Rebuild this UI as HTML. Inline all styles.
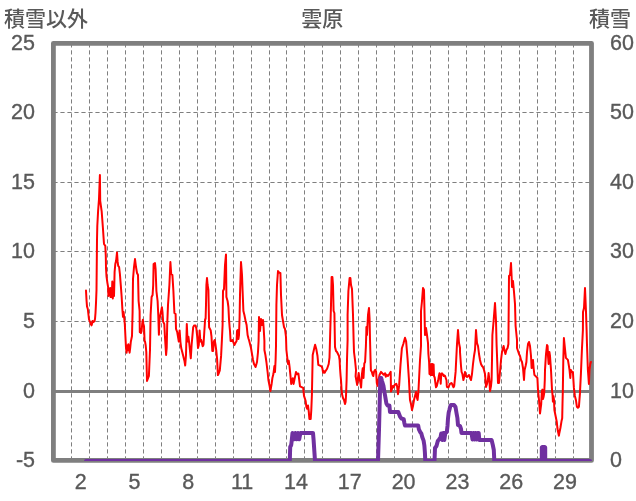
<!DOCTYPE html>
<html><head><meta charset="utf-8"><title>雲原</title>
<style>html,body{margin:0;padding:0;background:#fff;width:636px;height:501px;overflow:hidden}svg{display:block}</style>
</head><body>
<svg width="636" height="501" viewBox="0 0 636 501">
<rect width="636" height="501" fill="#fff"/>
<path d="M71.5 43.3V460.4M89.5 43.3V460.4M107.5 43.3V460.4M125.5 43.3V460.4M143.5 43.3V460.4M161.5 43.3V460.4M179.5 43.3V460.4M197.5 43.3V460.4M215.5 43.3V460.4M233.5 43.3V460.4M251.5 43.3V460.4M269.5 43.3V460.4M286.5 43.3V460.4M304.5 43.3V460.4M322.5 43.3V460.4M340.5 43.3V460.4M358.5 43.3V460.4M376.5 43.3V460.4M394.5 43.3V460.4M412.5 43.3V460.4M430.5 43.3V460.4M448.5 43.3V460.4M466.5 43.3V460.4M484.5 43.3V460.4M501.5 43.3V460.4M519.5 43.3V460.4M537.5 43.3V460.4M555.5 43.3V460.4M573.5 43.3V460.4M53.4 112.5H591.5M53.4 182.5H591.5M53.4 251.5H591.5M53.4 321.5H591.5" stroke="#7f7f7f" stroke-width="1" stroke-dasharray="4.2 2.8" fill="none"/>
<path d="M53.4 391.5H591.5" stroke="#7f7f7f" stroke-width="2.9" fill="none"/>
<rect x="53.4" y="43.3" width="538.10" height="417.10" stroke="#7f7f7f" stroke-width="4.8" fill="none" stroke-linejoin="round"/>
<polyline points="86,290.5 86.5,300 87,306.4 87.8,309 88.5,315 89,319.4 90,322 90.8,324 91.5,325.4 92,324 92.5,321 93.5,322 94.5,321 95,319 95.5,313 96,303 96.5,290 96.8,260 97,240 97.3,226 98.1,211 99,199 99.9,175 100.2,200.9 101.7,211.7 102.9,227.8 104,244 105.3,245.8 105.8,256 106,268 106.5,276.4 107.4,282.8 108.1,287 108.4,296 109,289 109.7,294.5 110.2,288 110.5,297 111.2,289 111.8,297 112.3,281.5 112.8,298.4 113.4,290 114,296 114.3,285 114.6,272 115.3,264 116.1,260.8 117,252.6 117.6,261.4 118.2,265.8 119.1,267 119.9,274 120.8,285.3 121.6,296 121.9,301 122.4,309.6 123,316.8 123.6,312 124.2,318 124.8,324 125.4,336 126,347.9 126.6,352.7 127.2,345.5 127.8,350.3 128.4,344.3 129,347.9 129.6,352.7 130.2,347.9 130.8,341.9 132,336 132.6,312 133,279 134,267 135,259 136,267 137,273 138,275 138.6,301 139.6,311 139.8,332.3 140.4,328.7 141,333 141.6,331 142.2,324 142.8,319.8 143.4,324 144,326.3 144.6,340.7 145.1,341.9 145.7,345.5 146.3,352 147,381 148.9,376 150,350 150.6,315 151.6,297 152.6,295 153.2,285 153.6,264 155,263 155.6,269 156.4,291 157.6,301 158.3,315.6 158.9,334.7 159.5,319.2 160.7,313.2 161.9,307.2 162.5,312 163.1,321.6 164.3,324 164.9,336 166.1,355 166.7,347.9 167.2,325 168,305 169.4,285 170.4,262 171.2,274 172.4,275 173.4,291 174.4,313 175.6,314 176,328.8 177.2,332 178.8,341.5 179.6,330.4 180.4,341.5 181.2,348 182.8,354.3 184.4,360.7 185.2,365.5 186,355 186.8,324 187.6,341.5 188.4,336.7 189.2,343 190.8,358.3 191.6,345 193.2,327.2 194,325.6 195.6,325.6 196.4,328.8 197.2,336.7 198,348 198.8,345 199.6,330.4 200.4,341.5 201.2,340 202.7,346.3 203.5,344.7 204.3,332 205.1,319.2 205.6,319 206,305 206.4,285 207,278 207.6,285 208.4,290 209.1,327.2 210.7,330.4 211.5,336.7 212.3,351 213.1,351 213.9,341.5 214.7,340 215.5,344.7 216.3,351 217.1,359.1 217.9,375.1 218.7,373.5 219.8,370.3 221.1,355.9 221.9,340 222.6,325 223,291 224,289 225,265 226,254.4 226.4,297 227.6,301 228.4,307 229,319 229.6,327 230,331 230.6,341 231.6,341 232.6,340 233.6,343 234.4,345 235.4,343 236.6,341 237,331 237.6,330 238.4,339 239,335 239.6,317 240,295 240.6,275 241,262 242,275 242.6,291 243.4,311 244.4,315 245.6,321 246.6,325 247.6,335 248.6,339 249,340 251,348 252,354 253,360 254,364 255.6,367 257,362 258,352 258.6,341 259,317 260,331 261,319 262,325 263,320 263.6,327 264.4,341 264.4,350 265.4,355 266.4,362 267.6,372 268.4,380 269.6,386 270.4,391 271.6,384 272.4,378 273.4,374 274.4,366 275,372 275.6,360 276,346 276.4,305 277,285 278,271 279.6,273 280.4,273 281,295 282,315 283,321 284,327 285,329 286,337 286.4,350 287.2,357 288,364 288.8,360.8 289.6,367.2 290.4,375.1 291.2,383.9 292.8,378.3 293.6,383.9 294.4,379.9 296,372 297.3,374.3 298.4,373.5 299.2,379.9 300,386.3 301.6,387.1 303.2,387.9 304,395.9 305.6,400.7 306.4,407.1 307.2,408.7 308,405.5 308.8,411.9 309.4,419 310.7,419 311.3,410 311.9,395 312.3,375 312.7,355 314.3,348 315.1,344.8 316.4,349.6 317.5,356 318.3,364.8 320,365.6 321.5,366.4 322.3,368 323.1,372.7 323.9,371.1 324.7,372.7 325.5,371.1 327.1,368.8 328.7,364 329.5,357.6 330,340 331,305 331.6,277 332.4,277 333,285 333.6,311 334.4,313 335,347 336,351 337,352 338,354 339,356 339.6,360 340,368 340.6,376 341,380 341.6,390 342,394 343,398 344,400 345,404 345.6,402 346,396 346.6,380 347,360 347.6,340 347.6,315 348.4,291 349.6,278 350.4,278 351,285 352,289 353,315 353.6,339 354,352 355,360 356,370 355.6,376.3 357.2,385 358,378 358.7,373 359.5,379.5 360.3,382 361.1,387.5 361.9,374.7 362.7,368.3 363.5,378 364.3,363.5 365.1,362 365.9,346 366.3,333 366.4,327 366.4,327 367,335 368,315 369,308 369.6,319 370,339 370.5,357.9 370.9,370.5 371.9,371.9 372.6,374.7 373.3,376 374,371.9 374.7,370.5 375.4,369.8 376.1,371.9 376.8,383 377.5,385.9 378.5,380 379.5,375 381,371.9 382.3,373.3 383.7,374.7 385.1,373.3 385.8,376.8 386.5,374.7 387.9,376 389.3,374 390.7,371.9 391,391.5 392.1,388.7 392.8,385.9 393.5,387.3 394.9,384.5 396.3,383.8 397,385.9 398,394.2 399.1,385.9 400.5,364.9 401.9,348.2 403.3,344 405,337.7 406.1,341.2 407.5,357.9 408.9,378.9 409.6,392.8 410,400 411,404 412,410 413,406 414,400 415,396 416,392 417,398 417.6,400 418.4,392 419,380 420,360 421,346 421,311 422,301 423,288 424,290 424.4,307 425,335 426,328 427,335 428,343 428.4,354 429.1,362 429.5,374 430,364 430.6,375 431.2,364 431.8,375 432.4,364 433,375 433.6,364.5 434,376 434.7,377.5 435.4,383 436,387.3 436.8,386 437.5,383 438.2,380.3 438.9,376 439.5,373.3 440.2,374.7 440.7,383.8 441.2,374.7 442,373.3 443,374.7 443.7,376 444.4,375.4 445.1,376 445.8,378.2 446.5,380.3 446.8,385.9 447.2,387.3 448.6,387.3 449.3,385.2 450,383.8 451.4,383 452.1,383.8 452.8,385.9 453.5,387.3 454.2,386 454.9,378.9 455.6,371.9 456.3,357.9 457,344 458,330 459,343 460,348 460,352 461,366 461.6,372 462.4,374 463.4,380 464.4,376 465,372 466,376 467,377 468,376 469,375 470,378 471,380 472,374 473,364 474,356 475,350 476,330 477,343 478,346 479,354 480,360 481,364 482,366 483,367 484,370 485,374 486,387 487,384 488,379 488.6,373 489.4,380 490,391 491,386 491.6,380 492,360 492.4,335 493.6,321 495,303 496,321 496.6,345 497.4,366 498,383 499,383 500,372 501,360 502,352 503,348 503.6,346 504.4,350 505.4,354 506.4,350 507.6,348 508.4,344 509,276 510,275 511,263 511.6,276 512,287 513,281 514,292 515,304 515.6,326 517,340 517,348 519,354 520,356 521,360 522,362 523,368 524,380 524.6,370 525.6,366 526.4,362 527,352 528,344 529,342 530,346 531,356 531.6,368 532.4,362 533,360 533.6,368 534.4,375 535.6,376 536.4,377 537.4,378 538,390 539,400 540,413.5 541.2,404 541.8,392 542.4,389.6 543,399 543.6,396.8 544.2,393.2 544.8,380 545,369.9 546,354 547,345 547.6,346 548,356 548.6,364 549.4,352 550,356 551,370 551.6,381.9 552,389.6 552.6,395.6 552.9,401.6 553.4,396 554,400 554.4,410 555.6,416 556.8,422 557.4,428 558,431.5 558.9,435.7 559.4,432.7 560.4,428 561.6,420.7 562.2,418.3 562.5,404 562.8,392 563.3,359.9 563.9,338 564.9,348 565.9,357.9 566.9,358.9 567.9,359.9 568.9,365.9 569.5,369.9 570.3,377.9 570.9,369.9 571.9,371.9 572.9,371.9 573.9,387.9 574.9,395.9 575.9,399.9 576.9,406.8 577.9,407.8 578.9,406.8 579.9,393.9 580.9,373.9 581.9,350 582.9,330 583,312 584,308 585,288 586,312 586.6,330 587,345 587.9,370 588.9,383.9 589.5,369.9 590.3,363.9 590.9,361.9" stroke="#ff0000" stroke-width="2" fill="none" stroke-linejoin="round" stroke-linecap="round"/>
<defs><clipPath id="pc"><rect x="0" y="0" width="636" height="461.1"/></clipPath></defs>
<polyline clip-path="url(#pc)" points="86,460.9 289.8,460.9 290.2,447 291.2,445 291.8,440 292.5,433 294,439.3 295.3,433 296.6,439.3 297.9,433 299.2,439.3 300.4,433 313,433 313.6,440 314.4,452 315,460.9 378,460.9 379,430 380,390 380.4,378 381.2,378 382,381 383.4,385.6 384.4,392 385.2,396.3 386.4,403.5 387.6,405.5 389.4,405.5 390,412 398.3,412 400.1,416.7 401.3,418.5 403.7,419.1 404.3,422.7 405,425.5 418.2,425.5 418.9,429.4 420.2,432 421.4,433.7 422.3,437.2 423.6,440.6 424.4,445.8 424.9,452.6 425.3,460.9 434.5,460.9 435,448 436.5,446 437.8,441 439,439.5 440.5,437.5 441.2,433.5 442.3,440 443.3,433 444.3,440 445.3,433 446.8,432 447.5,426 448,418.4 448.7,412.5 449.5,409.5 450.2,406.5 451,405 454,405 455.5,407 456.5,413 457.4,418 458,425 460,426 461,429 461.5,433 471.5,433 472.5,439.5 473.5,433 474.5,439.5 475.5,433 476.5,439.5 477.5,433 478.7,433 479.3,440 491.6,440 492.8,445 493.8,450 494.3,460.9 541.8,460.9 541.8,447.5 542.5,447 544.5,447 545.2,447.5 545.2,460.9 590,460.9" stroke="#7030a0" stroke-width="4" fill="none" stroke-linejoin="round" stroke-linecap="round"/>
<g font-family="&apos;Liberation Sans&apos;, sans-serif" font-size="21.5" fill="#595959" stroke="#595959" stroke-width="0.35">
<text transform="translate(35 49.9) scale(1 1.04)" text-anchor="end">25</text>
<text transform="translate(35 119.1) scale(1 1.04)" text-anchor="end">20</text>
<text transform="translate(35 189.1) scale(1 1.04)" text-anchor="end">15</text>
<text transform="translate(35 258.2) scale(1 1.04)" text-anchor="end">10</text>
<text transform="translate(35 328.1) scale(1 1.04)" text-anchor="end">5</text>
<text transform="translate(35 398.1) scale(1 1.04)" text-anchor="end">0</text>
<text transform="translate(35 467.0) scale(1 1.04)" text-anchor="end">-5</text>
<text transform="translate(610 49.9) scale(1 1.04)">60</text>
<text transform="translate(610 119.1) scale(1 1.04)">50</text>
<text transform="translate(610 189.1) scale(1 1.04)">40</text>
<text transform="translate(610 258.2) scale(1 1.04)">30</text>
<text transform="translate(610 328.1) scale(1 1.04)">20</text>
<text transform="translate(610 398.1) scale(1 1.04)">10</text>
<text transform="translate(610 467.0) scale(1 1.04)">0</text>
<text transform="translate(80.7 489.2) scale(1 1.04)" text-anchor="middle">2</text>
<text transform="translate(134.5 489.2) scale(1 1.04)" text-anchor="middle">5</text>
<text transform="translate(188.3 489.2) scale(1 1.04)" text-anchor="middle">8</text>
<text transform="translate(242.1 489.2) scale(1 1.04)" text-anchor="middle">11</text>
<text transform="translate(295.9 489.2) scale(1 1.04)" text-anchor="middle">14</text>
<text transform="translate(349.8 489.2) scale(1 1.04)" text-anchor="middle">17</text>
<text transform="translate(403.6 489.2) scale(1 1.04)" text-anchor="middle">20</text>
<text transform="translate(457.4 489.2) scale(1 1.04)" text-anchor="middle">23</text>
<text transform="translate(511.2 489.2) scale(1 1.04)" text-anchor="middle">26</text>
<text transform="translate(565.0 489.2) scale(1 1.04)" text-anchor="middle">29</text>
</g>
<g font-family="&apos;Liberation Sans&apos;, &apos;Noto Sans CJK JP&apos;, sans-serif" font-size="21" font-weight="500" fill="#595959">
<text x="4" y="26.3">積雪以外</text>
<text x="301.3" y="26.2">雲原</text>
<text x="589" y="26.4">積雪</text>
</g>
</svg>
</body></html>
